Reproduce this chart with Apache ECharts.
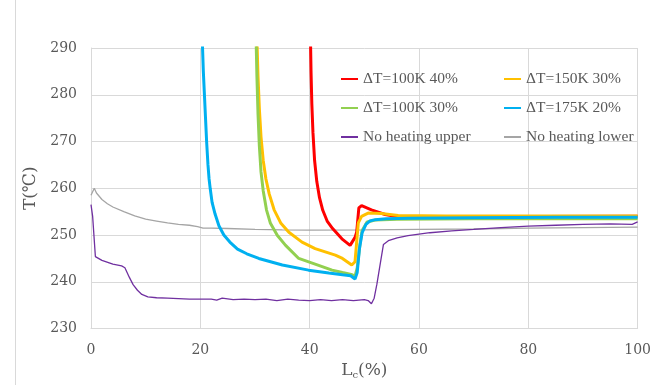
<!DOCTYPE html>
<html><head><meta charset="utf-8">
<script src="https://cdn.jsdelivr.net/npm/echarts@6/dist/echarts.min.js"></script>
<style>html,body{margin:0;padding:0;background:#fff}#c{width:654px;height:385px}</style>
</head><body><div id="c"></div>
<script>
const xTicks = [0, 20, 40, 60, 80, 100];
const yTicks = [230, 240, 250, 260, 270, 280, 290];
const names = ['ΔT=100K 40%', 'ΔT=150K 30%', 'ΔT=100K 30%', 'ΔT=175K 20%', 'No heating upper', 'No heating lower'];

const redX = [40.15, 40.25, 40.4, 40.6, 40.9, 41.3, 41.8, 42.4, 43.2, 44.2, 45.9, 47.4, 48.3, 48.6, 49, 49.5, 51.3, 53.8, 56.2, 65, 100];
const redY = [292, 285, 278, 272, 266, 261.5, 258, 255.3, 253, 251.4, 249.2, 247.8, 249.5, 250.6, 255.8, 256.3, 255.4, 254.4, 253.9, 253.9, 254];

const yellowX = [30.35, 30.55, 30.8, 31.1, 31.5, 32, 32.6, 33.5, 34.7, 36.2, 38.6, 41, 44.7, 46, 47.7, 48.3, 48.6, 48.9, 49.5, 50.7, 53.1, 56.2, 65, 100];
const yellowY = [292, 284, 277, 271, 266, 262, 258.8, 255.4, 252.6, 250.6, 248.5, 247.1, 245.7, 245, 243.6, 244.3, 248.5, 252.6, 254, 254.7, 254.6, 254.2, 254.1, 254.1];

const greenX = [30.2, 30.35, 30.55, 30.8, 31.1, 31.5, 32.1, 32.8, 34.1, 35.6, 38, 41, 44.1, 46, 47.6, 48.3, 48.7, 49.2, 49.6, 50.5, 52, 56, 70, 100];
const greenY = [292, 284, 276, 269, 263.5, 259.5, 255.4, 252.6, 249.9, 247.8, 245, 243.8, 242.5, 242, 241.6, 241.2, 243, 248, 251, 252.8, 253.2, 253.4, 253.5, 253.5];

const blueX = [20.35, 20.55, 20.75, 20.95, 21.15, 21.4, 21.6, 21.8, 22.15, 22.7, 23.4, 24.3, 25.4, 26.8, 28.5, 30.7, 35, 39.8, 43.5, 46, 47.5, 48.3, 48.7, 49.1, 49.6, 50.3, 51, 52, 54, 58, 70, 85, 100];
const blueY = [292, 285, 280, 275, 270, 265, 262, 260, 257, 254.5, 252, 250, 248.5, 247, 246, 245, 243.6, 242.5, 241.9, 241.5, 241.3, 240.6, 242, 247, 250.5, 252.3, 253, 253.3, 253.5, 253.6, 253.7, 253.8, 253.8];

const purpleX = [0, 0.3, 0.8, 2, 4, 5.6, 6.2, 7, 7.7, 8.5, 9.3, 10.4, 12, 14, 16, 18, 20, 22, 23, 24, 26, 28, 30, 32, 34, 36, 38, 40, 42, 44, 46, 48, 50, 50.7, 51.3, 51.8, 52.3, 53, 53.5, 54.4, 56, 58, 62, 66, 70, 75, 80, 85, 90, 95, 99, 100];
const purpleY = [256.5, 254, 245.4, 244.6, 243.8, 243.4, 243, 241, 239.4, 238.2, 237.3, 236.8, 236.6, 236.5, 236.4, 236.3, 236.3, 236.3, 236.1, 236.5, 236.2, 236.3, 236.2, 236.3, 236.0, 236.3, 236.1, 236.0, 236.2, 236.0, 236.2, 236.0, 236.2, 236.0, 235.3, 236.5, 239.5, 244.5, 248, 248.8, 249.4, 249.9, 250.5, 250.9, 251.2, 251.6, 251.9, 252.1, 252.3, 252.4, 252.3, 252.8];

const grayX = [0, 0.6, 1, 2, 3, 4, 6, 8, 10, 12, 14, 16, 18, 19.5, 20.5, 22, 25, 30, 35, 40, 50, 60, 70, 80, 90, 100];
const grayY = [258.5, 260, 259, 257.6, 256.7, 256, 255, 254.1, 253.4, 253, 252.6, 252.3, 252.1, 251.8, 251.5, 251.5, 251.4, 251.2, 251.1, 251.05, 251.1, 251.2, 251.3, 251.5, 251.6, 251.7];

const zip = (xs, ys) => xs.map((x, i) => [x, ys[i]]);
const colors = ['#ff0000', '#ffc000', '#92d050', '#00b0f0', '#7030a0', '#a5a5a5'];
const sets = [[redX, redY], [yellowX, yellowY], [greenX, greenY], [blueX, blueY], [purpleX, purpleY], [grayX, grayY]];
const widths = [3, 3, 3, 3, 1.3, 1.3];
const drawOrder = [5, 4, 0, 1, 2, 3];

const serif = "'DejaVu Serif', serif";
const legendText = { fontFamily: "'Liberation Serif', serif", fontSize: 15.5, color: '#595959' };
const legendCommon = { orient: 'vertical', itemGap: 13, itemWidth: 17, itemHeight: 14,
  textStyle: legendText, itemStyle: { opacity: 0 }, padding: 0 };

const chart = echarts.init(document.getElementById('c'), null, { renderer: 'canvas' });
chart.setOption({
  animation: false,
  backgroundColor: '#ffffff',
  graphic: [{ type: 'line', shape: { x1: 15.5, y1: 0, x2: 15.5, y2: 385 }, style: { stroke: '#d9d9d9', lineWidth: 1 } }],
  grid: { left: 91, right: 13, top: 48, bottom: 50 },
  legend: [
    Object.assign({ left: 340, top: 71, data: [names[0], names[2], names[4]] }, legendCommon),
    Object.assign({ left: 503, top: 71, data: [names[1], names[3], names[5]] }, legendCommon)
  ],
  xAxis: {
    type: 'value', min: 0, max: 100, interval: 20,
    name: 'L{sub|c}(%)', nameLocation: 'middle', nameGap: 30,
    nameTextStyle: { fontFamily: serif, fontSize: 17, color: '#595959',
      rich: { sub: { fontFamily: serif, fontSize: 10, color: '#595959', verticalAlign: 'bottom', padding: [8, 0, 0, 0] } } },
    axisLine: { show: true, lineStyle: { color: '#d9d9d9' } },
    axisTick: { show: false },
    splitLine: { show: true, lineStyle: { color: '#d9d9d9' } },
    axisLabel: { fontFamily: serif, fontSize: 14, color: '#595959', margin: 15 }
  },
  yAxis: {
    type: 'value', min: 230, max: 290, interval: 10,
    name: 'T(℃)', nameLocation: 'middle', nameGap: 51,
    nameTextStyle: { fontFamily: serif, fontSize: 17, color: '#595959' },
    axisLine: { show: true, lineStyle: { color: '#d9d9d9' } },
    axisTick: { show: false },
    splitLine: { show: true, lineStyle: { color: '#d9d9d9' } },
    axisLabel: { fontFamily: serif, fontSize: 14, color: '#595959', margin: 14 }
  },
  series: drawOrder.map(i => ({
    name: names[i], type: 'line', symbol: 'none', clip: true,
    data: zip(sets[i][0], sets[i][1]),
    lineStyle: { color: colors[i], width: widths[i] },
    itemStyle: { color: colors[i] }
  }))
});
</script></body></html>
